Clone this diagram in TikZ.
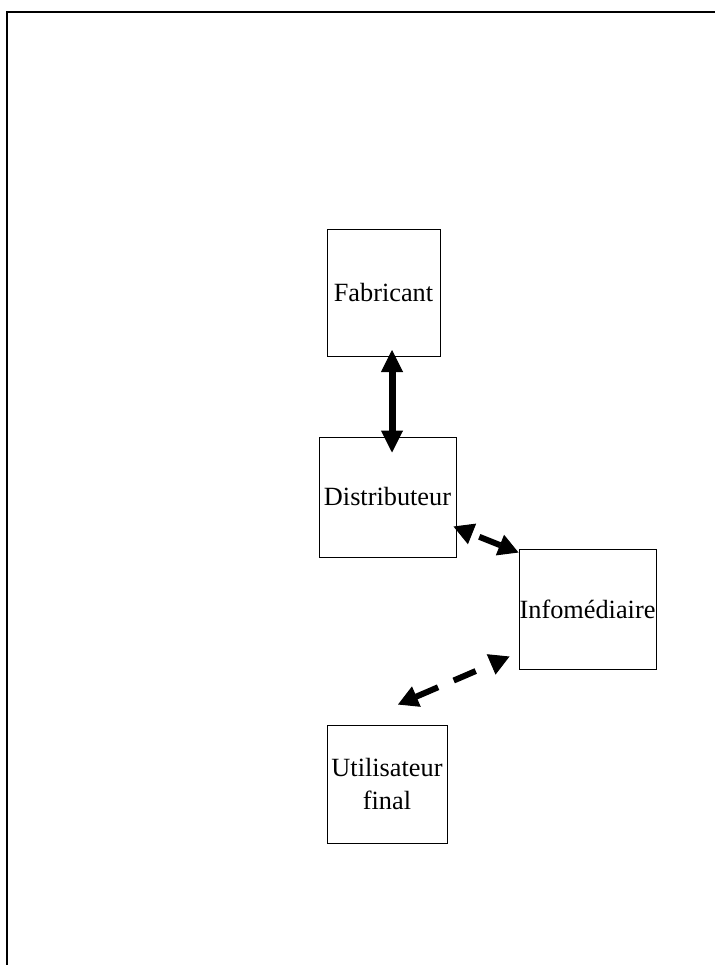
\documentclass[tikz,border=0pt]{standalone}
\usepackage{fontspec}
\setmainfont{Liberation Serif}
\usetikzlibrary{arrows.meta}

\begin{document}
\begin{tikzpicture}[x=1pt,y=-1pt,
                    boite/.style={draw,line width=1pt,inner sep=0pt,align=center,
                        font=\fontsize{26.3}{33}\selectfont},
                    lien/.style={line width=7pt,
                        {Triangle[width=22pt,length=22pt,line width=1pt]}-{Triangle[width=22pt,length=22pt,line width=1pt]}},
                    lienpointille/.style={line width=6pt,dash pattern=on 24pt off 17pt,
                        {Triangle[width=22pt,length=20pt,line width=1pt]}-{Triangle[width=22pt,length=20pt,line width=1pt]}}]
                    \useasboundingbox (0,0) rectangle (715,965);
                    \draw[line width=2pt] (7,965) -- (7,12) -- (715,12);

                    \node[boite,minimum width=113pt,minimum height=127pt] (fabricant) at (383.5,293) {Fabricant};
                    \node[boite,minimum width=137pt,minimum height=120pt] (distributeur) at (387.5,497) {Distributeur};
                    \node[boite,minimum width=137pt,minimum height=120pt] (infomediaire) at (587.5,609) {Infomédiaire};
                    \node[boite,minimum width=120pt,minimum height=118pt] (utilisateur) at (387,784) {Utilisateur\\final};

                    \draw[lien] ([shift={(8.5,-7)}]fabricant.south) -- ([shift={(4.5,16)}]distributeur.north);

                    \draw[lienpointille,dash phase=33pt] ([shift={(-3,-31)}]distributeur.south east) -- ([shift={(0,4)}]infomediaire.north west);
                    \draw[lienpointille,dash phase=24pt] ([shift={(-9,-13)}]infomediaire.south west) -- ([shift={(11,-20)}]utilisateur.north);
                \end{tikzpicture}
\end{document}
